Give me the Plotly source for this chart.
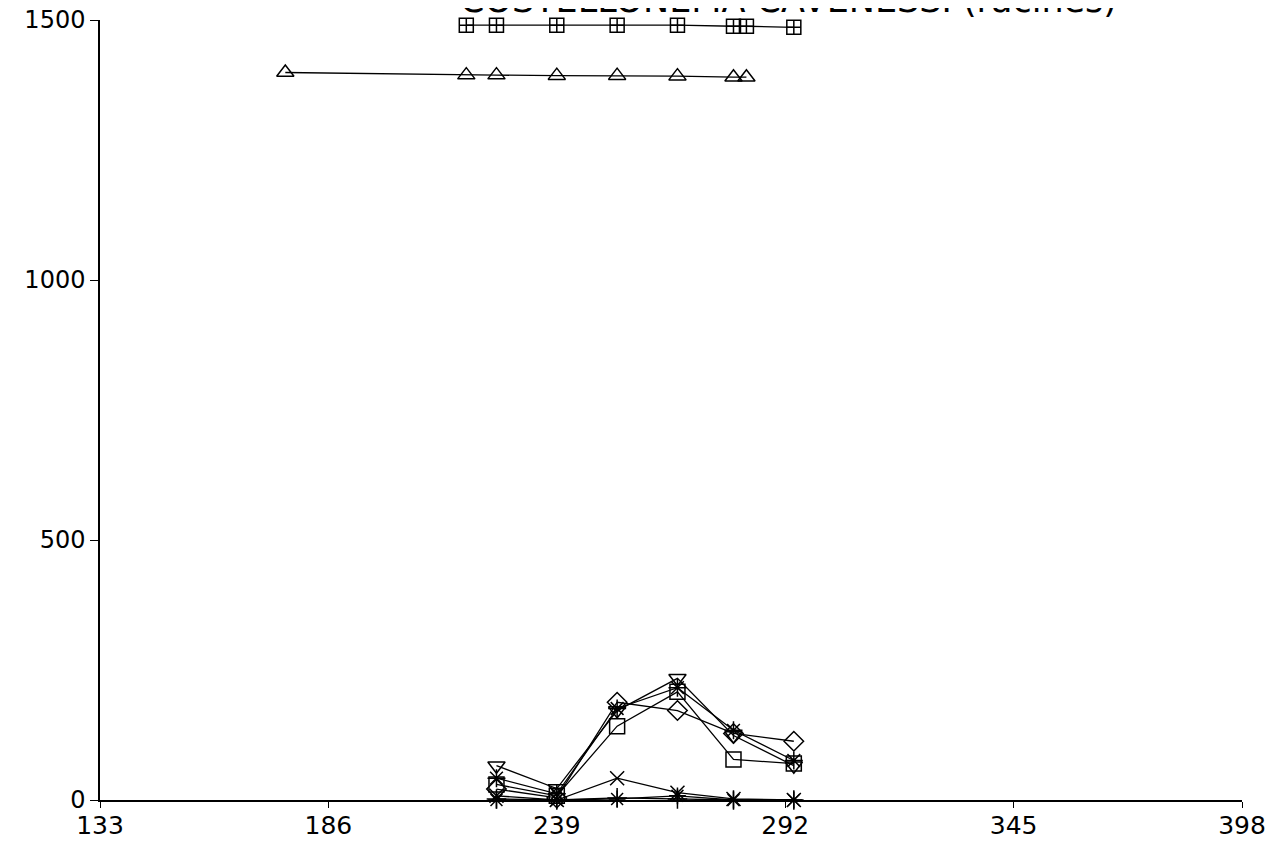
import plotly.graph_objects as go

# ---- data ----
x_ticks = [133, 186, 239, 292, 345, 398]
y_ticks = [0, 500, 1000, 1500]

x_top = [218, 225, 239, 253, 267, 280, 283, 294]
y_sqcross = [1490, 1490, 1490, 1490, 1490, 1488, 1488, 1486]

x_tri = [176, 218, 225, 239, 253, 267, 280, 283]
y_tri = [1399, 1394, 1394, 1393, 1393, 1392, 1390, 1390]

x_low = [225, 239, 253, 267, 280, 294]
y_square = [30, 8, 142, 208, 78, 70]
y_diamond = [21, 4, 188, 172, 128, 113]
y_tridown = [66, 22, 172, 234, 124, 66]
y_asterisk = [42, 12, 176, 216, 134, 76]
y_x = [8, 0, 42, 14, 2, 0]
y_cross = [2, 0, 4, 2, 0, 0]
y_star = [0, 0, 2, 8, 0, 0]

title_text = "COSTELLONEMA CAVENESSI (racines)"

# ---- figure ----
fig = go.Figure()

def add(xs, ys, symbol, size=14):
    fig.add_trace(go.Scatter(
        x=xs, y=ys, mode="lines+markers",
        line=dict(color="black", width=1.3),
        marker=dict(symbol=symbol, size=size, color="black",
                    line=dict(color="black", width=1.5)),
        cliponaxis=False, showlegend=False, hoverinfo="x+y"))

add(x_top, y_sqcross, "square-cross-open", 14)
add(x_tri, y_tri, "triangle-up-open", 15)
add(x_low, y_star, "asterisk-open", 14)
add(x_low, y_cross, "cross-thin-open", 14)
add(x_low, y_x, "x-thin-open", 14)
add(x_low, y_square, "square-open", 15)
add(x_low, y_diamond, "diamond-open", 15)
add(x_low, y_tridown, "triangle-down-open", 15)
add(x_low, y_asterisk, "asterisk-open", 15)

fig.add_annotation(
    text=title_text, xref="paper", yref="paper", x=0.603, y=1,
    xanchor="center", yanchor="bottom", yshift=-2, showarrow=False,
    font=dict(family="DejaVu Sans", size=35, color="black"))

fig.update_layout(
    width=1277, height=861,
    margin=dict(l=92, r=43, t=12, b=69, autoexpand=False),
    paper_bgcolor="white", plot_bgcolor="white",
    font=dict(family="DejaVu Sans", color="black"),
    xaxis=dict(range=[133, 398], tickvals=x_ticks, ticktext=[str(v) for v in x_ticks],
               automargin=False,
               showline=True, linecolor="black", linewidth=1.5,
               ticks="outside", ticklen=6, tickwidth=1.3, tickcolor="black",
               ticklabelstandoff=-4, ticklabeloverflow="allow",
               showgrid=False, zeroline=False,
               tickfont=dict(family="DejaVu Sans", size=25, color="black")),
    yaxis=dict(range=[0, 1500], tickvals=y_ticks, ticktext=[str(v) for v in y_ticks],
               automargin=False,
               showline=True, linecolor="black", linewidth=1.5,
               ticks="outside", ticklen=8, tickwidth=1.3, tickcolor="black",
               ticklabeloverflow="allow",
               showgrid=False, zeroline=False,
               tickfont=dict(family="DejaVu Sans", size=24, color="black")),
)

fig.write_html("out.html")
